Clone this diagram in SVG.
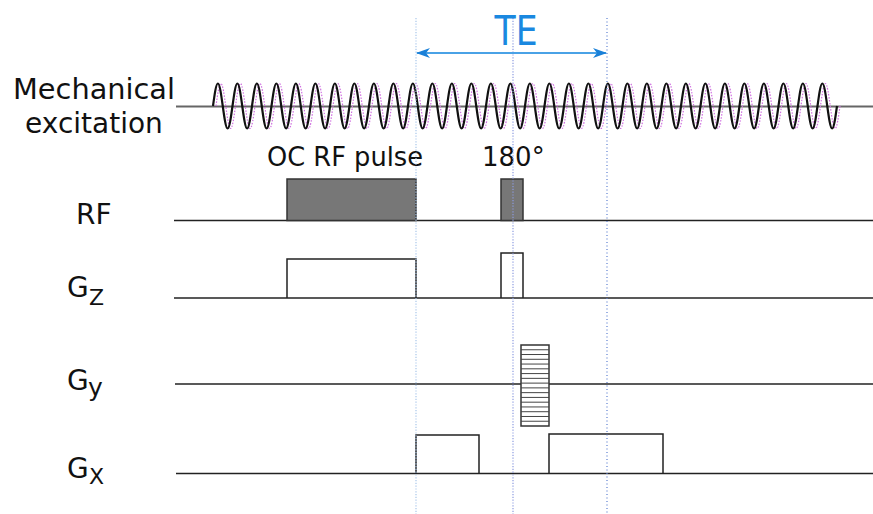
<svg xmlns="http://www.w3.org/2000/svg" xmlns:xlink="http://www.w3.org/1999/xlink" width="873" height="514" viewBox="0 0 873 514">
<style>
text{font-family:"DejaVu Sans","Liberation Sans",sans-serif;fill:#111}
.lbl{font-size:28px}
.sub{font-size:22px}
.base{stroke:#222;stroke-width:1.5;fill:none}
.rfp{fill:#777;stroke:#333;stroke-width:1.5}
.grad{fill:#fff;stroke:#333;stroke-width:1.5}
.wave{fill:none;stroke:#111;stroke-width:2.2}
.ghost{fill:none;stroke:#cf6fe0;stroke-width:1.2;stroke-dasharray:1.5,1.5}
.vd{fill:none;stroke-width:1.2;stroke-dasharray:1.2,1.6}
</style>
<defs>
<marker id="ah" viewBox="0 0 14 10" refX="13" refY="5" markerWidth="14" markerHeight="10" markerUnits="userSpaceOnUse" orient="auto-start-reverse">
<path d="M0,0 L14,5 L0,10 L4,5 Z" fill="#1a80d8"/>
</marker>
<path id="wavepath" d="M213,106 c1.59,-11.53 3.111,-22.5 4.875,-22.5 s3.285,10.97 4.875,22.5 s3.111,22.5 4.875,22.5 s3.285,-10.97 4.875,-22.5 s3.111,-22.5 4.875,-22.5 s3.285,10.97 4.875,22.5 s3.111,22.5 4.875,22.5 s3.285,-10.97 4.875,-22.5 s3.111,-22.5 4.875,-22.5 s3.285,10.97 4.875,22.5 s3.111,22.5 4.875,22.5 s3.285,-10.97 4.875,-22.5 s3.111,-22.5 4.875,-22.5 s3.285,10.97 4.875,22.5 s3.111,22.5 4.875,22.5 s3.285,-10.97 4.875,-22.5 s3.111,-22.5 4.875,-22.5 s3.285,10.97 4.875,22.5 s3.111,22.5 4.875,22.5 s3.285,-10.97 4.875,-22.5 s3.111,-22.5 4.875,-22.5 s3.285,10.97 4.875,22.5 s3.111,22.5 4.875,22.5 s3.285,-10.97 4.875,-22.5 s3.111,-22.5 4.875,-22.5 s3.285,10.97 4.875,22.5 s3.111,22.5 4.875,22.5 s3.285,-10.97 4.875,-22.5 s3.111,-22.5 4.875,-22.5 s3.285,10.97 4.875,22.5 s3.111,22.5 4.875,22.5 s3.285,-10.97 4.875,-22.5 s3.111,-22.5 4.875,-22.5 s3.285,10.97 4.875,22.5 s3.111,22.5 4.875,22.5 s3.285,-10.97 4.875,-22.5 s3.111,-22.5 4.875,-22.5 s3.285,10.97 4.875,22.5 s3.111,22.5 4.875,22.5 s3.285,-10.97 4.875,-22.5 s3.111,-22.5 4.875,-22.5 s3.285,10.97 4.875,22.5 s3.111,22.5 4.875,22.5 s3.285,-10.97 4.875,-22.5 s3.111,-22.5 4.875,-22.5 s3.285,10.97 4.875,22.5 s3.111,22.5 4.875,22.5 s3.285,-10.97 4.875,-22.5 s3.111,-22.5 4.875,-22.5 s3.285,10.97 4.875,22.5 s3.111,22.5 4.875,22.5 s3.285,-10.97 4.875,-22.5 s3.111,-22.5 4.875,-22.5 s3.285,10.97 4.875,22.5 s3.111,22.5 4.875,22.5 s3.285,-10.97 4.875,-22.5 s3.111,-22.5 4.875,-22.5 s3.285,10.97 4.875,22.5 s3.111,22.5 4.875,22.5 s3.285,-10.97 4.875,-22.5 s3.111,-22.5 4.875,-22.5 s3.285,10.97 4.875,22.5 s3.111,22.5 4.875,22.5 s3.285,-10.97 4.875,-22.5 s3.111,-22.5 4.875,-22.5 s3.285,10.97 4.875,22.5 s3.111,22.5 4.875,22.5 s3.285,-10.97 4.875,-22.5 s3.111,-22.5 4.875,-22.5 s3.285,10.97 4.875,22.5 s3.111,22.5 4.875,22.5 s3.285,-10.97 4.875,-22.5 s3.111,-22.5 4.875,-22.5 s3.285,10.97 4.875,22.5 s3.111,22.5 4.875,22.5 s3.285,-10.97 4.875,-22.5 s3.111,-22.5 4.875,-22.5 s3.285,10.97 4.875,22.5 s3.111,22.5 4.875,22.5 s3.285,-10.97 4.875,-22.5 s3.111,-22.5 4.875,-22.5 s3.285,10.97 4.875,22.5 s3.111,22.5 4.875,22.5 s3.285,-10.97 4.875,-22.5 s3.111,-22.5 4.875,-22.5 s3.285,10.97 4.875,22.5 s3.111,22.5 4.875,22.5 s3.285,-10.97 4.875,-22.5 s3.111,-22.5 4.875,-22.5 s3.285,10.97 4.875,22.5 s3.111,22.5 4.875,22.5 s3.285,-10.97 4.875,-22.5 s3.111,-22.5 4.875,-22.5 s3.285,10.97 4.875,22.5 s3.111,22.5 4.875,22.5 s3.285,-10.97 4.875,-22.5 s3.111,-22.5 4.875,-22.5 s3.285,10.97 4.875,22.5 s3.111,22.5 4.875,22.5 s3.285,-10.97 4.875,-22.5 s3.111,-22.5 4.875,-22.5 s3.285,10.97 4.875,22.5 s3.111,22.5 4.875,22.5 s3.285,-10.97 4.875,-22.5 s3.111,-22.5 4.875,-22.5 s3.285,10.97 4.875,22.5 s3.111,22.5 4.875,22.5 s3.285,-10.97 4.875,-22.5 s3.111,-22.5 4.875,-22.5 s3.285,10.97 4.875,22.5 s3.111,22.5 4.875,22.5 s3.285,-10.97 4.875,-22.5 s3.111,-22.5 4.875,-22.5 s3.285,10.97 4.875,22.5 s3.111,22.5 4.875,22.5 s3.285,-10.97 4.875,-22.5 s3.111,-22.5 4.875,-22.5 s3.285,10.97 4.875,22.5 s3.111,22.5 4.875,22.5 s3.285,-10.97 4.875,-22.5 s3.111,-22.5 4.875,-22.5 s3.285,10.97 4.875,22.5 s3.111,22.5 4.875,22.5 s3.285,-10.97 4.875,-22.5 s3.111,-22.5 4.875,-22.5 s3.285,10.97 4.875,22.5 s3.111,22.5 4.875,22.5 s3.285,-10.97 4.875,-22.5"/>
</defs>
<rect width="873" height="514" fill="#fff"/>

<g id="mechanical">
<line x1="176" y1="106.5" x2="873" y2="106.5" stroke="#666" stroke-width="2"/>
<use xlink:href="#wavepath" class="ghost" transform="translate(3,0)"/>
<use xlink:href="#wavepath" class="wave"/>
<text class="lbl" x="94" y="99" text-anchor="middle" textLength="162" lengthAdjust="spacingAndGlyphs">Mechanical</text>
<text class="lbl" x="94" y="133" text-anchor="middle">excitation</text>
</g>

<g id="rf">
<line class="base" x1="174" y1="220.5" x2="873" y2="220.5"/>
<rect class="rfp" x="287" y="179" width="129" height="41.5"/>
<rect class="rfp" x="501" y="179" width="22" height="41.5"/>
<text class="lbl" x="76" y="224">RF</text>
<text style="font-size:26px" x="267" y="166" textLength="156" lengthAdjust="spacingAndGlyphs">OC RF pulse</text>
<text style="font-size:26px" x="482" y="166">180°</text>
</g>

<g id="gz">
<line class="base" x1="174" y1="298" x2="873" y2="298"/>
<path class="base" d="M287,298 V259 H416 V298"/>
<path class="base" d="M501,298 V253 H523 V298"/>
<text class="lbl" x="67" y="297">G</text>
<text class="sub" x="89" y="305">Z</text>
</g>

<g id="gy">
<line class="base" x1="175" y1="384" x2="873" y2="384"/>
<rect class="grad" x="521" y="345" width="28" height="81"/>
<path stroke="#444" stroke-width="1" fill="none" d="M521,349.76H549M521,354.53H549M521,359.29H549M521,364.06H549M521,368.82H549M521,373.59H549M521,378.35H549M521,383.12H549M521,387.88H549M521,392.65H549M521,397.41H549M521,402.18H549M521,406.94H549M521,411.71H549M521,416.47H549M521,421.24H549"/>
<text class="lbl" x="67" y="390">G</text>
<text class="sub" style="font-size:25px" x="88" y="396">y</text>
</g>

<g id="gx">
<line class="base" x1="176" y1="473.5" x2="873" y2="473.5"/>
<path class="base" d="M416,473.5 V435 H479 V473.5"/>
<path class="base" d="M549,473.5 V434 H663 V473.5"/>
<text class="lbl" x="67" y="478">G</text>
<text class="sub" x="89" y="484">X</text>
</g>

<g id="connectors">
<line class="vd" x1="416" y1="18" x2="416" y2="514" stroke="#a8c6ea"/>
<line class="vd" x1="513" y1="18" x2="513" y2="514" stroke="#8c9be0"/>
<line class="vd" x1="607" y1="18" x2="607" y2="514" stroke="#5a7ed0" style="stroke-dasharray:1,2.5"/>
<line x1="417" y1="53" x2="606" y2="53" stroke="#4aa2e6" stroke-width="2" marker-start="url(#ah)" marker-end="url(#ah)"/>
</g>

<g id="te">
<text x="516" y="45" text-anchor="middle" style="font-size:40px;fill:#1a88e0" textLength="43" lengthAdjust="spacingAndGlyphs">TE</text>
</g>
</svg>
